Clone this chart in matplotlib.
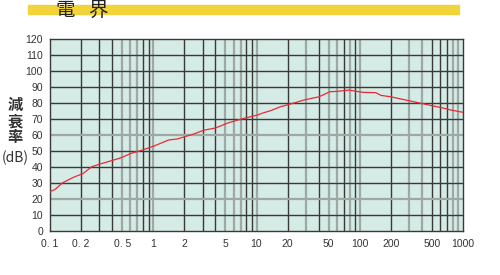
import matplotlib
matplotlib.use('Agg')
import matplotlib.pyplot as plt
from matplotlib.patches import Rectangle

# data
freq = [0.1, 0.112, 0.133, 0.168, 0.21, 0.254, 0.306, 0.397, 0.497, 0.607, 0.748,
        1.007, 1.41, 1.70, 2.46, 3.08, 4.0, 5.38, 7.53, 10.2, 11.8, 13.7, 17.1,
        21.4, 28.8, 40.3, 51.5, 60.7, 78.7, 106, 143, 160, 200, 313, 421, 658,
        764, 1000]
atten = [24.6, 26.0, 30.2, 33.5, 36.0, 40.2, 41.9, 44.0, 46.0, 48.5, 50.2,
         53.0, 56.9, 57.5, 60.6, 63.0, 64.4, 67.7, 70.4, 72.5, 74.0, 75.2, 77.7,
         79.4, 81.9, 83.9, 87.1, 87.3, 88.1, 86.7, 86.5, 84.8, 83.9, 81.2, 79.4,
         76.7, 75.6, 74.2]

xticks = [0.1, 0.2, 0.5, 1, 2, 5, 10, 20, 50, 100, 200, 500, 1000]
xlabels = ['0. 1', '0. 2', '0. 5', '1', '2', '5', '10', '20', '50', '100', '200', '500', '1000']
yticks = list(range(0, 121, 10))

# vertical grid lines, dark or gray as in the picture
vlines = [0.2, 0.3, 0.4, 0.5, 0.6, 0.7, 0.8, 0.9,
          1, 2, 3, 4, 5, 6, 7, 8, 9,
          10, 20, 30, 40, 50, 60, 70, 80, 90,
          100, 200, 300, 400, 500, 600, 700, 800, 900]
vgray = [0.5, 0.6, 0.7, 1, 5, 6, 7, 10, 30, 50, 60, 80, 100, 300, 400, 800, 900]
hgray = [20, 60]

dark = '#3b3838'
gray = '#9ea8a5'
num_font = ['Liberation Sans', 'DejaVu Sans']
cjk = ['Noto Sans CJK JP', 'DejaVu Sans']

fig = plt.figure(figsize=(5, 2.75), dpi=100)
ax = fig.add_axes([0.1, 0.16, 0.826, 0.698])
ax.set_facecolor('#d5ebe6')
ax.set_xscale('log')
ax.set_xlim(0.1, 1000)
ax.set_ylim(0, 120)

for v in vlines:
    if v in vgray:
        ax.axvline(v, color=gray, lw=1.6, zorder=1)
    else:
        ax.axvline(v, color=dark, lw=1.0, zorder=1)
for h in yticks[1:-1]:
    if h in hgray:
        ax.axhline(h, color=gray, lw=1.6, zorder=1)
    else:
        ax.axhline(h, color=dark, lw=1.0, zorder=1)

ax.plot(freq, atten, color='#ec2a35', lw=0.9, zorder=3)

for s in ax.spines.values():
    s.set_color(dark)
    s.set_linewidth(1.0)

ax.set_xticks(xticks)
ax.set_xticklabels(xlabels, family=num_font, fontsize=7.5, color='#333333')
ax.minorticks_off()
ax.set_yticks(yticks)
ax.set_yticklabels([str(t) for t in yticks], family=num_font, fontsize=7.5, color='#333333')
ax.tick_params(length=0, pad=5)
ax.tick_params(axis='x', pad=6)

# title band
fig.patches.append(Rectangle((0.056, 0.949), 0.862, 0.033, transform=fig.transFigure,
                             color='#f1d43c', zorder=0))
fig.text(0.13, 0.962, '電', family=cjk, fontsize=14, color='#222222',
         ha='center', va='center')
fig.text(0.195, 0.962, '界', family=cjk, fontsize=14, color='#222222',
         ha='center', va='center')

# stacked y label
for ch, yp in zip(['減', '衰', '率'], [105, 121, 137]):
    fig.text(0.03, 1 - yp / 275, ch, family=cjk, fontsize=11, color='#333333',
             ha='center', va='center', weight='bold')
fig.text(0.031, 1 - 158 / 275, '(dB)', family=cjk, fontsize=10, color='#333333',
         ha='center', va='center')

fig.savefig('out.png', dpi=100)
